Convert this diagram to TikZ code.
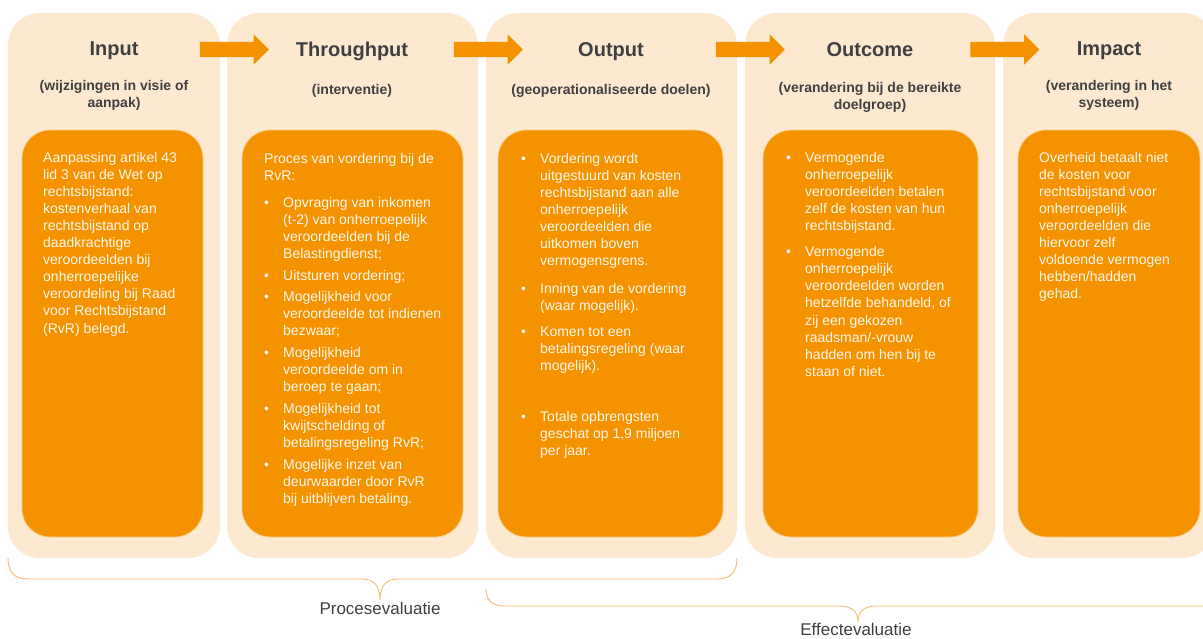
\documentclass[tikz,border=0pt]{standalone}
\usepackage{fontspec}
\setmainfont{Liberation Sans}
\usetikzlibrary{shapes.arrows}
\definecolor{peach}{RGB}{253,233,207}
\definecolor{orng}{RGB}{244,146,0}
\definecolor{ttlc}{RGB}{64,64,64}
\definecolor{bodytxt}{RGB}{255,247,235}
\definecolor{brc}{RGB}{247,185,110}
\newlength\bulw
\setlength\bulw{19pt}
\newcommand\bitem{\par\noindent\hangindent=\bulw\hangafter=1\makebox[\bulw][l]{\textbullet}}
\newcommand\pgap[1]{\par\vspace{#1}}
\begin{document}
\begin{tikzpicture}[x=1pt,y=-1pt,
  panel/.style={fill=peach, draw=none, rounded corners=32pt, inner sep=0pt, rectangle},
  inbox/.style={fill=orng, draw=white!55!orng, line width=0.8pt, rounded corners=28pt, inner sep=0pt, rectangle},
  ttl/.style={font=\fontsize{20}{24}\selectfont\bfseries, text=ttlc, anchor=base, inner sep=0pt},
  sub/.style={font=\fontsize{14}{17}\selectfont\bfseries, text=ttlc, anchor=base, inner sep=0pt},
  body/.style={font=\fontsize{14}{17.1}\selectfont, text=bodytxt, anchor=base west, inner sep=0pt},
  blkarrow/.style={single arrow, fill=orng, draw=none, minimum height=69pt, minimum width=30pt,
    inner xsep=0pt, inner ysep=7.5pt, single arrow head extend=7.5pt},
  brace/.style={draw=brc, line width=0.9pt},
  lbl/.style={font=\fontsize{17}{20}\selectfont, text=ttlc, anchor=base, inner sep=0pt}
]
\useasboundingbox (0,0) rectangle (1203,638);
\clip (0,0) rectangle (1203,638);
\fill[white] (0,0) rectangle (1203,638);

% panels
\node[panel, minimum width=212pt, minimum height=545pt] (p1) at (114,285.5) {};
\node[panel, minimum width=251pt, minimum height=545pt] (p2) at (352.5,285.5) {};
\node[panel, minimum width=251pt, minimum height=545pt] (p3) at (611.5,285.5) {};
\node[panel, minimum width=250pt, minimum height=545pt] (p4) at (870,285.5) {};
\node[panel, minimum width=212pt, minimum height=545pt] (p5) at (1109,285.5) {};

% inner boxes
\node[inbox, minimum width=181pt, minimum height=407pt] (b1) at (112.5,333.5) {};
\node[inbox, minimum width=221pt, minimum height=407pt] (b2) at (352.5,333.5) {};
\node[inbox, minimum width=225pt, minimum height=407pt] (b3) at (610.5,333.5) {};
\node[inbox, minimum width=215pt, minimum height=407pt] (b4) at (870.5,333.5) {};
\node[inbox, minimum width=182pt, minimum height=407pt] (b5) at (1109,333.5) {};

% arrows
\node[blkarrow] (a1) at (230.5,49.5) {};
\node[blkarrow] (a2) at (484.5,49.5) {};
\node[blkarrow] (a3) at (746.5,49.5) {};
\node[blkarrow] (a4) at (1001,49.5) {};

% titles
\node[ttl] (t1) at (114,55.5) {Input};
\node[ttl] (t2) at (352,56.5) {Throughput};
\node[ttl] (t3) at (611,56.5) {Output};
\node[ttl] (t4) at (870,56.5) {Outcome};
\node[ttl] (t5) at (1109,55.5) {Impact};

% subtitles
\node[sub] (s1) at (114,90) {\begin{tabular}[t]{@{}c@{}}(wijzigingen in visie of\\aanpak)\end{tabular}};
\node[sub] (s2) at (352,94) {(interventie)};
\node[sub] (s3) at (611,94) {(geoperationaliseerde doelen)};
\node[sub] (s4) at (870,92.5) {\begin{tabular}[t]{@{}c@{}}(verandering bij de bereikte\\doelgroep)\end{tabular}};
\node[sub] (s5) at (1109,90) {\begin{tabular}[t]{@{}c@{}}(verandering in het\\systeem)\end{tabular}};

% body texts
\node[body] (x1) at (43,162) {\begin{minipage}[t]{160pt}
Aanpassing artikel 43\\lid 3 van de Wet op\\rechtsbijstand:\\kostenverhaal van\\rechtsbijstand op\\daadkrachtige\\veroordeelden bij\\onherroepelijke\\veroordeling bij Raad\\voor Rechtsbijstand\\(RvR) belegd.
\end{minipage}};

\node[body] (x2) at (264,163) {\begin{minipage}[t]{200pt}
Proces van vordering bij de\\RvR:\pgap{10.4pt}
\bitem Opvraging van inkomen\\(t-2) van onherroepelijk\\veroordeelden bij de\\Belastingdienst;\pgap{4.3pt}
\bitem Uitsturen vordering;\pgap{4.3pt}
\bitem Mogelijkheid voor\\veroordeelde tot indienen\\bezwaar;\pgap{4.6pt}
\bitem Mogelijkheid\\veroordeelde om in\\beroep te gaan;\pgap{4.6pt}
\bitem Mogelijkheid tot\\kwijtschelding of\\betalingsregeling RvR;\pgap{4.4pt}
\bitem Mogelijke inzet van\\deurwaarder door RvR\\bij uitblijven betaling.
\end{minipage}};

\node[body] (x3) at (521,163) {\begin{minipage}[t]{200pt}
\bitem Vordering wordt\\uitgestuurd van kosten\\rechtsbijstand aan alle\\onherroepelijk\\veroordeelden die\\uitkomen boven\\vermogensgrens.\pgap{10.6pt}
\bitem Inning van de vordering\\(waar mogelijk).\pgap{8.6pt}
\bitem Komen tot een\\betalingsregeling (waar\\mogelijk).\pgap{34.3pt}
\bitem Totale opbrengsten\\geschat op 1,9 miljoen\\per jaar.
\end{minipage}};

\node[body] (x4) at (786,162.5) {\begin{minipage}[t]{200pt}
\bitem Vermogende\\onherroepelijk\\veroordeelden betalen\\zelf de kosten van hun\\rechtsbijstand.\pgap{8.6pt}
\bitem Vermogende\\onherroepelijk\\veroordeelden worden\\hetzelfde behandeld, of\\zij een gekozen\\raadsman/-vrouw\\hadden om hen bij te\\staan of niet.
\end{minipage}};

\node[body] (x5) at (1039,162) {\begin{minipage}[t]{170pt}
Overheid betaalt niet\\de kosten voor\\rechtsbijstand voor\\onherroepelijk\\veroordeelden die\\hiervoor zelf\\voldoende vermogen\\hebben/hadden\\gehad.
\end{minipage}};

% braces
\draw[brace] (8,558) .. controls (8,572) and (14,579) .. (28,579) -- (362,579)
  .. controls (374,579) and (380,586) .. (380,600)
  .. controls (380,586) and (386,579) .. (398,579) -- (717,579)
  .. controls (731,579) and (737,572) .. (737,558);
\draw[brace] (486,589) .. controls (486,600) and (492,606) .. (504,606) -- (840,606)
  .. controls (852,606) and (858,612) .. (858,622)
  .. controls (858,612) and (864,606) .. (876,606) -- (1210,606);

\node[lbl] (l1) at (380,614) {Procesevaluatie};
\node[lbl] (l2) at (856,635) {Effectevaluatie};
\end{tikzpicture}
\end{document}
